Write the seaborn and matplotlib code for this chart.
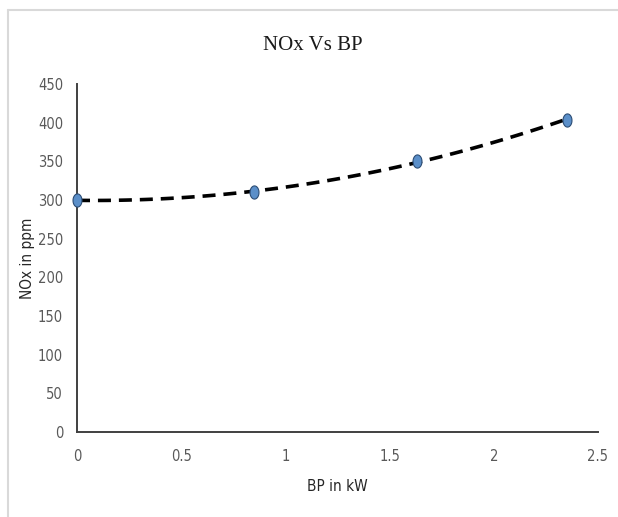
import numpy as np
import pandas as pd
import seaborn as sns
import matplotlib
matplotlib.use("Agg")
import matplotlib.pyplot as plt
from matplotlib.path import Path
from matplotlib.lines import Line2D
from matplotlib import font_manager

# Brake power (kW) and measured NOx emissions (ppm)
bp_kw = [0.0, 0.85, 1.63, 2.35]
nox_ppm = [300, 310, 350, 404]

x_ticks = [0, 0.5, 1, 1.5, 2, 2.5]
x_tick_labels = ["0", "0.5", "1", "1.5", "2", "2.5"]
y_ticks = [0, 50, 100, 150, 200, 250, 300, 350, 400, 450]

df = pd.DataFrame({"BP": bp_kw, "NOx": nox_ppm})

sns.set_theme(style="white")
names = {f.name for f in font_manager.fontManager.ttflist}
narrow = "Liberation Sans Narrow" if "Liberation Sans Narrow" in names else "DejaVu Sans"
plt.rcParams["font.family"] = [narrow, "DejaVu Sans"]
plt.rcParams["font.stretch"] = "condensed"

fig = plt.figure(figsize=(6.18, 5.17), dpi=100)
ax = fig.add_axes([77 / 618, 1 - 432 / 517, (598 - 77) / 618, (432 - 84) / 517])

# Second-order polynomial trendline, dashed
sns.regplot(data=df, x="BP", y="NOx", order=2, ci=None, scatter=False, ax=ax,
            line_kws=dict(color="black", lw=2.6, linestyle=(0, (3.6, 2.2)), zorder=2))

# Vertically stretched round markers
t = np.linspace(0, 2 * np.pi, 40)
ellipse = Path(np.column_stack([0.68 * np.cos(t), np.sin(t)]))
sns.scatterplot(data=df, x="BP", y="NOx", ax=ax, marker=ellipse, s=90,
                color="#5b8fc9", edgecolor="#2c4d75", linewidth=0.8, zorder=3,
                clip_on=False)

ax.set_xlim(0, 2.5)
ax.set_ylim(0, 450)
ax.set_xticks(x_ticks)
ax.set_xticklabels(x_tick_labels)
ax.set_yticks(y_ticks)
ax.tick_params(axis="both", length=0, labelsize=10.5, labelcolor="#595959")
ax.tick_params(axis="x", pad=12)
ax.tick_params(axis="y", pad=10)

for side in ["top", "right"]:
    ax.spines[side].set_visible(False)
for side in ["left", "bottom"]:
    ax.spines[side].set_color("#404040")
    ax.spines[side].set_linewidth(1.4)

ax.set_xlabel("BP in kW", fontsize=11, color="#262626", labelpad=11)
ax.set_ylabel("NOx in ppm", fontsize=11, color="#262626", labelpad=12)
ax.yaxis.set_label_coords(-0.08, 0.5)

fig.text(313 / 618, 1 - 45 / 517, "NOx Vs BP", ha="center", va="center",
         fontsize=15, family=["Liberation Serif", "DejaVu Serif"], color="#1a1a1a")

# Light chart-area border along the top and left edges
fig.add_artist(Line2D([8 / 618, 1], [1 - 10 / 517, 1 - 10 / 517],
                      transform=fig.transFigure, color="#d9d9d9", lw=1.5))
fig.add_artist(Line2D([8 / 618, 8 / 618], [0, 1 - 10 / 517],
                      transform=fig.transFigure, color="#d9d9d9", lw=1.5))

fig.savefig("out.png", dpi=100)
